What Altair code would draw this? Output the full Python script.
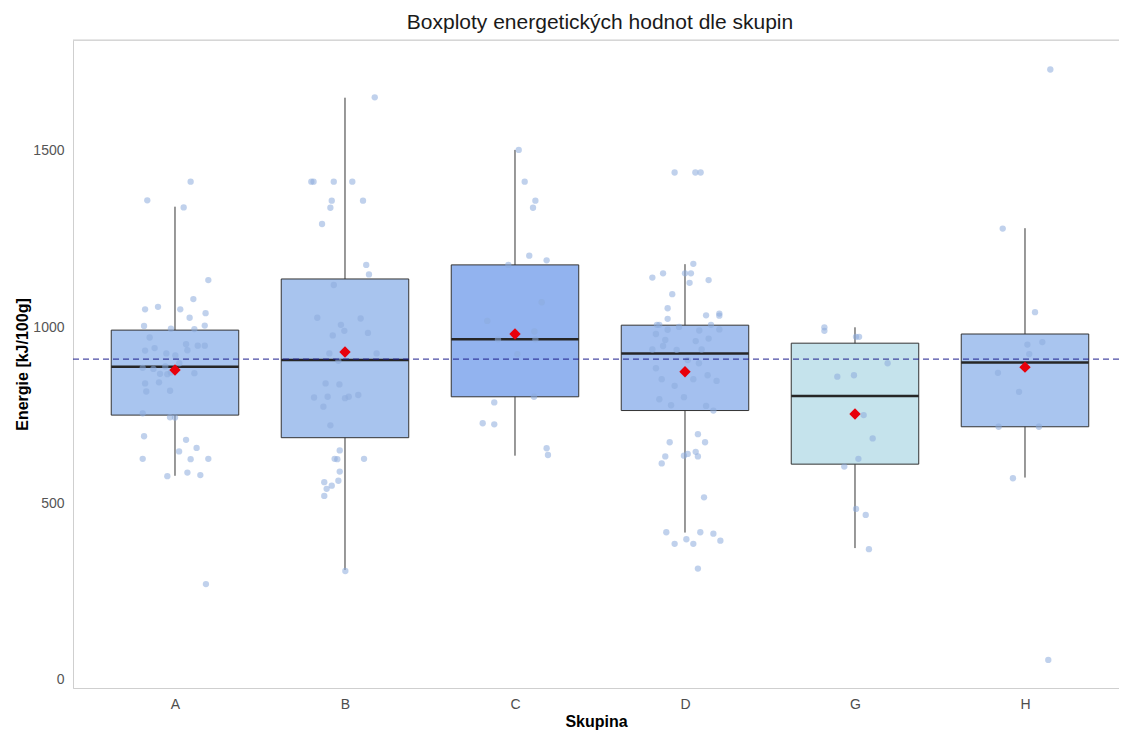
import altair as alt
import pandas as pd

# ---- data ----
groups = ["A", "B", "C", "D", "G", "H"]
q1 = [751, 687, 803, 764, 612, 718]
median = [888, 907, 966, 926, 805, 900]
q3 = [992, 1137, 1177, 1006, 955, 981]
whisker_lo = [579, 312, 636, 418, 374, 574]
whisker_hi = [1342, 1651, 1503, 1179, 1000, 1281]
group_means = [879, 930, 981, 874, 754, 887]
overall_mean = 910

a_values = [1413, 1360, 1340, 1134, 1080, 1051, 1058, 1051, 1027, 1040, 1004, 1005, 996, 995, 971, 941, 934,
            952, 948, 948, 935, 926, 920, 885, 882, 868, 889, 867, 872, 898, 870, 841, 844, 818, 820, 756,
            745, 744, 691, 681, 658, 648, 627, 626, 627, 578, 588, 581, 272]
a_jitter = [0.092, -0.163, 0.051, 0.196, 0.108, -0.176, -0.100, 0.031, 0.086, 0.180, -0.182, 0.175, -0.024,
            0.114, -0.149, -0.120, -0.176, 0.065, 0.134, 0.175, 0.073, -0.051, 0.002, -0.190, -0.127, -0.088,
            -0.057, -0.045, -0.024, 0.025, 0.114, -0.176, -0.094, -0.169, -0.029, -0.190, -0.029, 0.000,
            -0.182, 0.065, 0.127, 0.024, -0.190, 0.092, 0.196, -0.045, 0.073, 0.149, 0.182]

b_values = [1652, 1413, 1413, 1413, 1413, 1359, 1359, 1339, 1293, 1177, 1150, 1120, 1027, 1025, 1007, 990, 977,
            984, 926, 926, 905, 841, 838, 801, 803, 799, 803, 808, 775, 722, 651, 627, 626, 627, 591, 561,
            542, 551, 565, 522, 309]
b_jitter = [0.175, -0.198, -0.185, -0.066, 0.043, -0.078, 0.106, -0.086, -0.135, 0.125, 0.141, -0.066, -0.163,
            0.092, -0.024, -0.004, -0.072, 0.135, -0.092, 0.186, -0.039, -0.114, -0.033, -0.182, -0.102, 0.000,
            0.022, 0.078, -0.127, -0.086, -0.031, -0.061, -0.045, 0.112, -0.031, -0.122, -0.108, -0.078,
            -0.039, -0.122, 0.002]

c_values = [1503, 1413, 1359, 1339, 1203, 1190, 1177, 1071, 1018, 988, 966, 966, 924, 803, 787, 728, 725, 657, 638]
c_jitter = [0.022, 0.057, 0.120, 0.106, 0.084, 0.186, -0.039, 0.157, -0.163, 0.114, -0.100, 0.120, 0.014,
            0.112, -0.122, -0.190, -0.122, 0.186, 0.194]

d_values = [1439, 1439, 1439, 1180, 1141, 1153, 1153, 1153, 1134, 1126, 1094, 1054, 1034, 1039, 1033, 1024,
            1007, 1007, 993, 1001, 991, 1007, 994, 981, 964, 961, 968, 947, 937, 936, 937, 884, 907, 898, 853,
            853, 864, 848, 834, 802, 796, 779, 777, 764, 697, 674, 674, 634, 614, 636, 641, 647, 634, 518,
            419, 419, 415, 395, 399, 386, 386, 316]
d_jitter = [-0.061, 0.061, 0.092, 0.049, -0.192, -0.129, 0.000, 0.035, 0.139, 0.027, -0.075, -0.102, 0.124,
            0.202, 0.202, -0.102, -0.165, -0.151, -0.102, -0.035, 0.084, 0.153, 0.202, -0.171, -0.116, 0.063,
            0.139, -0.129, -0.192, -0.049, 0.098, -0.171, 0.016, 0.082, -0.137, 0.049, 0.133, 0.186, -0.061,
            -0.006, -0.151, -0.082, 0.124, 0.167, 0.076, -0.090, 0.118, -0.116, -0.137, -0.006, 0.016, 0.063,
            0.076, 0.112, -0.110, 0.090, 0.167, 0.208, 0.008, -0.061, 0.049, 0.076]

g_values = [1000, 990, 973, 973, 898, 860, 864, 751, 685, 627, 605, 485, 468, 371]
g_jitter = [-0.180, -0.180, 0.006, 0.024, 0.192, -0.104, -0.006, 0.051, 0.104, 0.020, -0.063, 0.006, 0.063, 0.082]

h_values = [1731, 1280, 1043, 951, 958, 924, 871, 817, 718, 718, 572, 57]
h_jitter = [0.149, -0.131, 0.059, 0.014, 0.102, 0.025, -0.159, -0.035, -0.155, 0.082, -0.071, 0.137]

# ---- styles ----
box_colors = ["#a9c5ef", "#a8c4ee", "#92b3ef", "#a4c0ef", "#c5e3ec", "#a9c5ef"]
y_domain = [-22.7, 1814.6]
x_domain = [0.4, 6.553]
FONT = "Liberation Sans"

stats = pd.DataFrame({
    "group": groups,
    "pos": list(range(1, len(groups) + 1)),
    "q1": q1, "median": median, "q3": q3,
    "w_lo": whisker_lo, "w_hi": whisker_hi, "mean": group_means,
})

point_sets = [a_values, b_values, c_values, d_values, g_values, h_values]
jitter_sets = [a_jitter, b_jitter, c_jitter, d_jitter, g_jitter, h_jitter]
frames = []
for i, (g, vals, jit) in enumerate(zip(groups, point_sets, jitter_sets)):
    frames.append(pd.DataFrame({"group": g, "pos": i + 1, "value": vals, "jitter": jit}))
pts = pd.concat(frames, ignore_index=True)

label_expr = "[" + ",".join("'" + g + "'" for g in groups) + "][datum.value - 1]"

x_axis = alt.Axis(values=list(range(1, len(groups) + 1)), labelExpr=label_expr, title="Skupina",
                  grid=False, ticks=False, tickSize=0, domainColor="#cfcfcf", domainWidth=1,
                  labelColor="#4d4d4d", labelFontSize=14, labelFont=FONT, labelPadding=9,
                  titleFont=FONT, titleFontSize=16, titleFontWeight="bold", titleColor="#000000",
                  titlePadding=2)
y_axis = alt.Axis(values=[0, 500, 1000, 1500], format="d", title="Energie [kJ/100g]", grid=False,
                  ticks=False, tickSize=0, domainColor="#cfcfcf", domainWidth=1, labelColor="#555555",
                  labelFontSize=14, labelFont=FONT, labelPadding=9, titleFont=FONT, titleFontSize=16,
                  titleFontWeight="bold", titleColor="#000000", titleAngle=270, titleX=-51, titleY=324,
                  titleAlign="center", titleBaseline="middle")

x_scale = alt.Scale(domain=x_domain, nice=False, zero=False)
y_scale = alt.Scale(domain=y_domain, nice=False, zero=False)


def X(f):
    return alt.X(f, type="quantitative", scale=x_scale, axis=x_axis)


def Y(f):
    return alt.Y(f, type="quantitative", scale=y_scale, axis=y_axis)


base = alt.Chart(stats)

top_border = alt.Chart(pd.DataFrame({"t": [y_domain[1]]})).mark_rule(
    color="#cfcfcf", strokeWidth=1).encode(y=Y("t"))

whiskers = base.mark_rule(color="#333333", strokeWidth=1).encode(x=X("pos"), y=Y("w_lo"), y2="w_hi:Q")

boxes = base.transform_calculate(left="datum.pos - 0.375", right="datum.pos + 0.375").mark_rect(
    stroke="#333333", strokeWidth=1).encode(
    x=X("left"), x2="right:Q", y=Y("q1"), y2="q3:Q",
    color=alt.Color("group:N", scale=alt.Scale(domain=groups, range=box_colors), legend=None))

medians = base.transform_calculate(left="datum.pos - 0.375", right="datum.pos + 0.375").mark_rule(
    color="#262626", strokeWidth=2.5).encode(x=X("left"), x2="right:Q", y=Y("median"))

points = alt.Chart(pts).transform_calculate(xj="datum.pos + datum.jitter").mark_circle(
    size=40, color="#8cacdc", opacity=0.55).encode(x=X("xj"), y=Y("value"))

hline = alt.Chart(pd.DataFrame({"m": [overall_mean]})).mark_rule(
    color="#1f1f8f", strokeDash=[6, 4], strokeWidth=1.2, opacity=0.8).encode(y=Y("m"))

means = base.mark_point(shape="diamond", filled=True, color="#e8000b", size=130, opacity=1).encode(
    x=X("pos"), y=Y("mean"))

chart = alt.layer(top_border, whiskers, boxes, medians, points, hline, means).properties(
    width=1046, height=648,
    title=alt.TitleParams("Boxploty energetických hodnot dle skupin", fontSize=21, fontWeight="normal",
                          color="#1a1a1a", anchor="middle", offset=7, dx=4, font=FONT),
    autosize=alt.AutoSizeParams(type="none"),
    padding={"left": 65, "top": 32, "right": 0, "bottom": 45},
).configure_view(stroke=None).configure(background="white")

chart.save("out.html", embed_options={"renderer": "svg", "actions": False})
